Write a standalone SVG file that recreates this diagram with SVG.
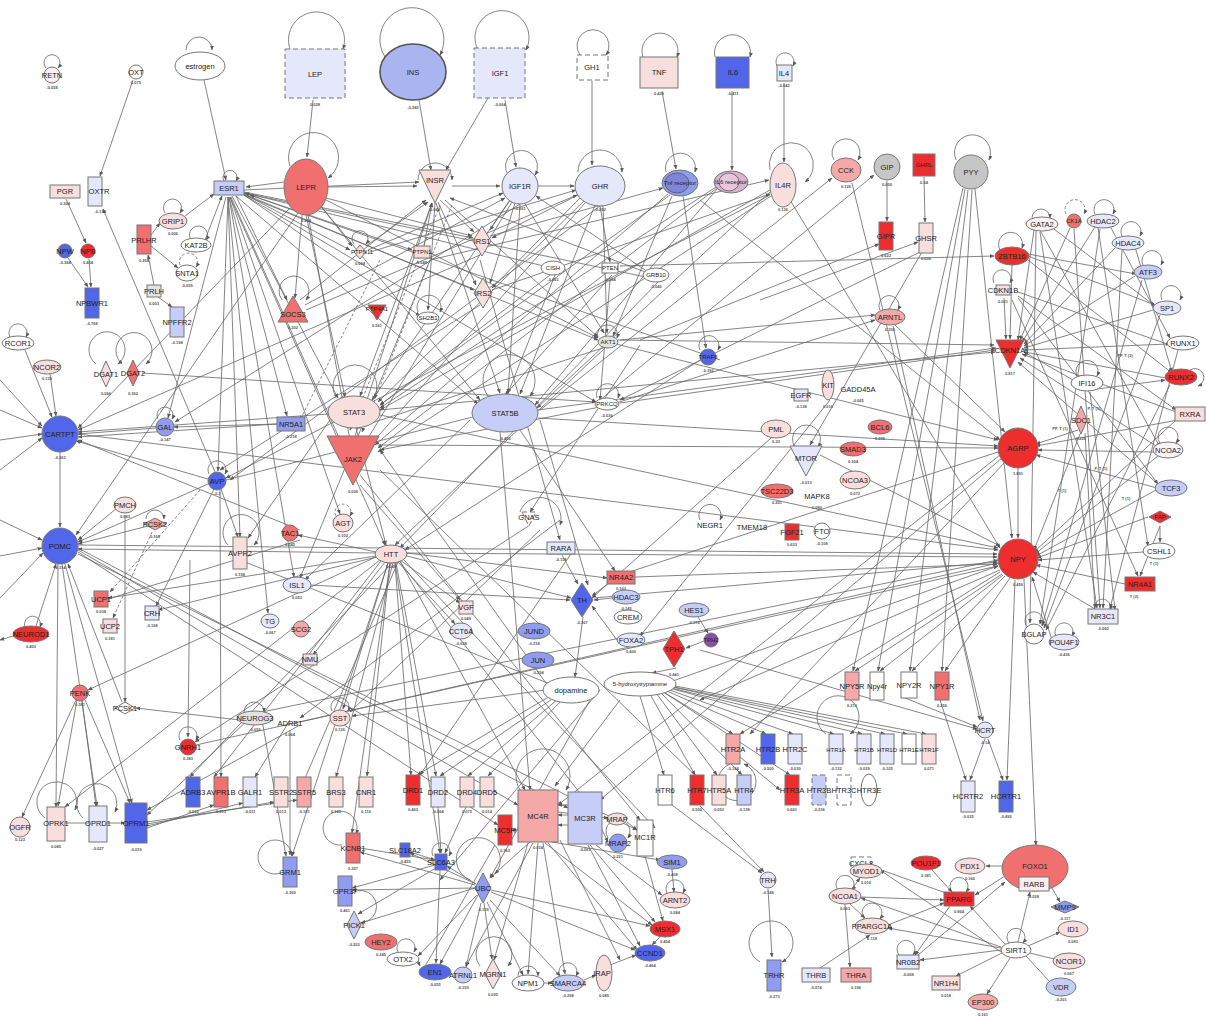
<svg xmlns="http://www.w3.org/2000/svg" width="1206" height="1020" viewBox="0 0 1206 1020">
<style>
.n{stroke:#777;stroke-width:1}
.d{stroke-dasharray:5 3}
.r1{fill:#ee2e2e}.r2{fill:#f07070}.r3{fill:#f4a8a8}.r4{fill:#f9dede}
.b1{fill:#5166e8}.b2{fill:#8f9cef}.b3{fill:#c6cdf6}.b4{fill:#e5e8fb}
.w{fill:#fff}.g{fill:#c6c6c6}.g2{fill:#e2e2e2}
text{font-family:"Liberation Sans",Arial,sans-serif;fill:#222;text-anchor:middle}
.t{font-size:7.5px}
.s{font-size:6px}
.v{font-size:4px;font-weight:bold;fill:#555}
#connectors path{fill:none}
</style>
<defs>
<marker id="a" viewBox="0 0 10 10" refX="9" refY="5" markerWidth="6" markerHeight="6" orient="auto"><path d="M0 1L10 5L0 9z" fill="#5a5a5a"/></marker>
</defs>
<rect width="1206" height="1020" fill="#fff"/>
<g id="connectors" stroke="#666" stroke-width="0.8" marker-end="url(#a)">
<path d="M46 68A8 8 0 1 1 58 68"/>
<path d="M186 50A13 13 0 1 1 212 50"/>
<path d="M290 49A28 28 0 1 1 343 49"/>
<path d="M385 57A32 32 0 1 1 440 55"/>
<path d="M478 50A27 27 0 1 1 526 50"/>
<path d="M580 55A16 16 0 1 1 606 55"/>
<path d="M643 57A18 18 0 1 1 677 57"/>
<path d="M715 57A18 18 0 1 1 750 57"/>
<path d="M777 66A9 9 0 1 1 793 66"/>
<path d="M224 181A7 7 0 1 1 236 181"/>
<path d="M418 180A17 17 0 1 1 452 180"/>
<path d="M508 175A16 16 0 1 1 535 175"/>
<path d="M578 172A21 21 0 1 1 622 172"/>
<path d="M666 172A15 15 0 1 1 695 172"/>
<path d="M770 170A22 22 0 1 1 805 182"/>
<path d="M290 166A25 25 0 1 1 328 178"/>
<path d="M834 160A14 14 0 1 1 858 160"/>
<path d="M956 160A18 18 0 1 1 989 160"/>
<path d="M165 213A9 9 0 1 1 180 213"/>
<path d="M190 238A9 9 0 1 1 206 240"/>
<path d="M180 265A9 9 0 1 1 196 267" stroke-dasharray="3 2"/>
<path d="M336 398A22 22 0 1 1 374 398"/>
<path d="M488 396A26 26 0 1 1 530 396"/>
<path d="M282 300A15 15 0 1 1 306 300"/>
<path d="M354 244A8 8 0 1 1 366 244"/>
<path d="M418 312A12 12 0 1 1 440 312"/>
<path d="M598 338A10 10 0 1 1 617 338"/>
<path d="M597 398A11 11 0 1 1 618 398"/>
<path d="M700 350A10 10 0 1 1 718 350"/>
<path d="M520 512A20 20 0 1 1 560 525"/>
<path d="M158 419A8 8 0 1 1 172 419"/>
<path d="M96 364A18 18 0 1 1 118 364"/>
<path d="M122 364A18 18 0 1 1 146 364"/>
<path d="M10 337A9 9 0 1 1 26 337"/>
<path d="M209 474A9 9 0 1 1 225 474"/>
<path d="M146 519A9 9 0 1 1 164 519"/>
<path d="M228 545A18 18 0 1 1 254 545"/>
<path d="M336 516A8 8 0 1 1 350 516" stroke-dasharray="3 2"/>
<path d="M25 627A8 8 0 1 1 40 627"/>
<path d="M700 520A11 11 0 1 1 720 520"/>
<path d="M795 447A14 14 0 1 1 818 447"/>
<path d="M880 310A10 10 0 1 1 898 310"/>
<path d="M1000 250A12 12 0 1 1 1022 248"/>
<path d="M994 283A9 9 0 1 1 1010 283"/>
<path d="M1032 218A9 9 0 1 1 1050 218"/>
<path d="M1066 214A10 10 0 1 1 1084 214" stroke-dasharray="3 2"/>
<path d="M1095 214A10 10 0 1 1 1113 214"/>
<path d="M1122 236A10 10 0 1 1 1140 236"/>
<path d="M1143 265A10 10 0 1 1 1161 265"/>
<path d="M1162 300A10 10 0 1 1 1180 300"/>
<path d="M1190 370A9 9 0 1 1 1198 386"/>
<path d="M1160 443A10 10 0 1 1 1176 443"/>
<path d="M1077 376A11 11 0 1 1 1097 376"/>
<path d="M1026 625A9 9 0 1 1 1042 625"/>
<path d="M1056 636A9 9 0 1 1 1072 636"/>
<path d="M1095 610A8 8 0 1 1 1110 610"/>
<path d="M180 740A9 9 0 1 1 196 740"/>
<path d="M45 818A20 20 0 1 1 75 810"/>
<path d="M83 818A20 20 0 1 1 115 812"/>
<path d="M332 711A9 9 0 1 1 348 711"/>
<path d="M244 712A10 10 0 1 1 264 712"/>
<path d="M283 872A17 17 0 1 1 292 856"/>
<path d="M342 845A17 17 0 1 1 356 834"/>
<path d="M433 856A9 9 0 1 1 449 856"/>
<path d="M352 893A16 16 0 1 1 352 920"/>
<path d="M470 880A22 22 0 1 1 495 874"/>
<path d="M398 952A9 9 0 1 1 414 952"/>
<path d="M480 966A18 18 0 1 1 508 966"/>
<path d="M518 976A10 10 0 1 1 538 976"/>
<path d="M560 976A9 9 0 1 1 576 976"/>
<path d="M667 893A9 9 0 1 1 683 893"/>
<path d="M520 790A27 27 0 1 1 566 790"/>
<path d="M608 838A12 12 0 1 1 628 838"/>
<path d="M730 764A19 19 0 1 0 744 764"/>
<path d="M826 734A21 21 0 1 1 850 734"/>
<path d="M760 962A22 22 0 1 1 782 962"/>
<path d="M864 919A10 10 0 1 1 880 919"/>
<path d="M899 955A9 9 0 1 1 913 955"/>
<path d="M952 892A9 9 0 1 1 966 892"/>
<path d="M1009 943A9 9 0 1 1 1023 943"/>
<path d="M838 890A9 9 0 1 1 852 890"/>
<path d="M133 80L100 176"/>
<path d="M204 80L226 180"/>
<path d="M313 100L307 157"/>
<path d="M419 100L431 170"/>
<path d="M488 98L446 170"/>
<path d="M505 100L516 167"/>
<path d="M592 81L592 165"/>
<path d="M662 91L676 169"/>
<path d="M732 91L732 170"/>
<path d="M784 83L784 162"/>
<path d="M887 181L887 221"/>
<path d="M924 177L925 222"/>
<path d="M328 187L417 186"/>
<path d="M452 186L500 186"/>
<path d="M538 186L574 186"/>
<path d="M284 182L246 187"/>
<path d="M66 199L86 243"/>
<path d="M68 258L88 287"/>
<path d="M89 259L91 287"/>
<path d="M215 472L103 209"/>
<path d="M185 216L214 194"/>
<path d="M205 240L222 196"/>
<path d="M151 235L160 223"/>
<path d="M151 246L178 268"/>
<path d="M154 285L148 255"/>
<path d="M158 297L172 307"/>
<path d="M232 196L338 398"/>
<path d="M231 197L340 440"/>
<path d="M236 196L478 404"/>
<path d="M236 196L287 300"/>
<path d="M230 197L385 545"/>
<path d="M228 197L218 471"/>
<path d="M230 197L340 514"/>
<path d="M229 197L294 577"/>
<path d="M229 197L287 416"/>
<path d="M228 197L268 613"/>
<path d="M244 192L473 238"/>
<path d="M244 194L474 290"/>
<path d="M244 194L350 250"/>
<path d="M244 195L598 340"/>
<path d="M244 195L596 402"/>
<path d="M244 190L419 182"/>
<path d="M228 197L240 537"/>
<path d="M226 197L168 418"/>
<path d="M244 195L420 316"/>
<path d="M244 193L412 250"/>
<path d="M306 215L345 397"/>
<path d="M308 215L350 440"/>
<path d="M320 205L480 400"/>
<path d="M302 215L295 298"/>
<path d="M320 205L352 246"/>
<path d="M326 198L472 236"/>
<path d="M326 200L598 338"/>
<path d="M298 213L76 535"/>
<path d="M290 208L78 428"/>
<path d="M440 200L474 232"/>
<path d="M438 202L476 285"/>
<path d="M424 246L432 203"/>
<path d="M366 246L428 202"/>
<path d="M436 203L500 393"/>
<path d="M432 203L360 396"/>
<path d="M445 200L598 337"/>
<path d="M300 300L426 200"/>
<path d="M355 436L432 203"/>
<path d="M435 203L428 310"/>
<path d="M648 273L450 198"/>
<path d="M510 200L490 230"/>
<path d="M515 203L490 283"/>
<path d="M510 200L372 400"/>
<path d="M525 204L604 333"/>
<path d="M368 250L503 193"/>
<path d="M648 272L536 196"/>
<path d="M520 204L508 393"/>
<path d="M512 202L365 443"/>
<path d="M305 305L505 198"/>
<path d="M595 205L520 394"/>
<path d="M585 200L378 402"/>
<path d="M585 203L372 443"/>
<path d="M578 195L492 238"/>
<path d="M580 198L492 288"/>
<path d="M306 310L577 195"/>
<path d="M370 252L576 190"/>
<path d="M603 206L607 333"/>
<path d="M600 206L610 262"/>
<path d="M670 195L380 405"/>
<path d="M683 196L706 348"/>
<path d="M668 194L375 445"/>
<path d="M490 236L663 188"/>
<path d="M672 196L613 336"/>
<path d="M716 187L380 408"/>
<path d="M718 188L535 405"/>
<path d="M717 188L378 448"/>
<path d="M770 192L537 408"/>
<path d="M770 190L380 410"/>
<path d="M492 290L770 194"/>
<path d="M771 196L378 452"/>
<path d="M430 260L769 180"/>
<path d="M540 410L832 178"/>
<path d="M600 400L874 175"/>
<path d="M640 340L879 244"/>
<path d="M852 183L983 721"/>
<path d="M760 300L918 242"/>
<path d="M920 252L620 400"/>
<path d="M922 252L810 445"/>
<path d="M620 266L994 256"/>
<path d="M968 190L910 671"/>
<path d="M972 190L942 671"/>
<path d="M965 189L878 671"/>
<path d="M963 188L853 671"/>
<path d="M975 189L1012 538"/>
<path d="M895 325L1005 432"/>
<path d="M893 326L980 720"/>
<path d="M610 405L875 320"/>
<path d="M620 340L875 315"/>
<path d="M618 340L994 345"/>
<path d="M620 403L995 350"/>
<path d="M538 410L996 348"/>
<path d="M380 410L995 352"/>
<path d="M142 373L596 402"/>
<!-- extra mesh in the middle -->
<path d="M612 345L356 428"/>
<path d="M600 407L380 450"/>
<path d="M770 195L226 478"/>
<path d="M600 206L230 480"/>
<path d="M520 204L175 422"/>
<path d="M480 255L78 430"/>
<path d="M480 305L220 470"/>
<path d="M430 260L300 578"/>
<path d="M660 280L400 548"/>
<path d="M700 360L405 550"/>
<path d="M605 348L395 545"/>
<path d="M540 420L588 585"/>
<path d="M520 430L615 571"/>
<path d="M470 420L305 580"/>
<path d="M330 420L248 538"/>
<path d="M360 485L460 600"/>
<path d="M560 520L300 718"/>
<path d="M540 530L350 712"/>
<path d="M530 525L195 742"/>
<path d="M575 548L420 775"/>
<path d="M500 432L530 790"/>
<path d="M640 345L530 512"/>
<path d="M780 430L592 598"/>
<path d="M830 400L640 636"/>
<path d="M550 275L380 405"/>
<path d="M555 275L508 393"/>
<path d="M612 275L505 395"/>
<path d="M660 280L230 190"/>
<path d="M720 360L250 195"/>
<path d="M560 270L245 193"/>
<path d="M700 200L1000 440"/>
<path d="M790 200L1000 548"/>
<path d="M380 470L700 780"/>
<path d="M360 475L640 820"/>
<path d="M480 260L560 540"/>
<path d="M610 280L600 400"/>
<!-- ring mesh -->
<path d="M1034 230L1018 340"/>
<path d="M1070 228L1020 340"/>
<path d="M1095 227L1022 342"/>
<path d="M1115 248L1024 344"/>
<path d="M1135 276L1024 346"/>
<path d="M1153 310L1024 348"/>
<path d="M1168 344L1024 350"/>
<path d="M1166 378L1024 352"/>
<path d="M1176 412L1022 354"/>
<path d="M1156 446L1020 358"/>
<path d="M1158 484L1018 362"/>
<path d="M1073 380L1024 352"/>
<path d="M1012 265L1010 339"/>
<path d="M1004 298L1006 339"/>
<path d="M1156 490L1036 556"/>
<path d="M1148 517L1037 558"/>
<path d="M1143 552L1038 560"/>
<path d="M1125 584L1036 565"/>
<path d="M1095 609L1033 572"/>
<path d="M1052 640L1032 577"/>
<path d="M1080 434L1034 550"/>
<path d="M1158 456L1035 554"/>
<path d="M1176 420L1034 552"/>
<path d="M1078 430L1036 444"/>
<path d="M1154 452L1038 450"/>
<path d="M1157 488L1036 455"/>
<path d="M1178 420L1036 446"/>
<path d="M1028 260L1172 373"/>
<path d="M1040 232L1097 608"/>
<path d="M1100 229L1040 624"/>
<path d="M1122 250L1103 608"/>
<path d="M1142 280L1042 626"/>
<path d="M1160 315L1044 628"/>
<path d="M1170 385L1046 630"/>
<path d="M1178 350L1110 608"/>
<path d="M1074 229L1100 608"/>
<path d="M1036 231L1030 623"/>
<path d="M1018 296L1176 410"/>
<path d="M1018 298L1158 484"/>
<path d="M1028 256L1155 305"/>
<path d="M1028 254L1136 274"/>
<path d="M1050 226L1155 306"/>
<path d="M1110 226L1170 338"/>
<path d="M1135 247L1172 372"/>
<path d="M1018 292L1170 345"/>
<path d="M1090 390L1165 380"/>
<path d="M1040 230L1160 447"/>
<path d="M1098 228L1148 546"/>
<path d="M1012 300L1138 576"/>
<path d="M1090 392L1115 610"/>
<path d="M1160 526L1140 576"/>
<path d="M1160 526L1160 542"/>
<path d="M1085 433L1095 608"/>
<path d="M405 553L997 557"/>
<path d="M594 598L997 562"/>
<path d="M78 545L997 554"/>
<path d="M78 434L998 550"/>
<path d="M1018 468L1018 538"/>
<path d="M635 577L997 564"/>
<path d="M380 415L998 548"/>
<path d="M670 682L998 566"/>
<path d="M820 455L1000 546"/>
<path d="M1010 578L945 671"/>
<path d="M1005 576L912 671"/>
<path d="M1002 574L855 671"/>
<path d="M1003 575L880 671"/>
<path d="M1024 579L1036 845"/>
<path d="M1015 580L1007 780"/>
<path d="M940 700L966 780"/>
<path d="M985 739L970 780"/>
<path d="M988 739L1003 780"/>
<path d="M905 698L977 727"/>
<path d="M300 722L998 563"/>
<path d="M262 712L998 560"/>
<path d="M196 745L998 566"/>
<path d="M1000 570L700 700"/>
<path d="M1000 572L740 734"/>
<path d="M700 650L977 729"/>
<path d="M378 445L998 448"/>
<path d="M538 418L998 446"/>
<path d="M600 340L998 440"/>
<path d="M1000 455L558 805"/>
<path d="M1002 458L600 800"/>
<path d="M1005 462L750 734"/>
<path d="M998 452L620 575"/>
<path d="M660 690L733 734"/>
<path d="M662 689L766 734"/>
<path d="M664 688L793 734"/>
<path d="M666 687L834 734"/>
<path d="M667 687L862 734"/>
<path d="M668 686L885 734"/>
<path d="M669 686L907 734"/>
<path d="M670 685L926 734"/>
<path d="M660 692L742 775"/>
<path d="M662 691L790 775"/>
<path d="M656 693L717 775"/>
<path d="M650 694L695 775"/>
<path d="M640 696L664 775"/>
<path d="M672 805L762 873"/>
<path d="M700 806L764 872"/>
<path d="M768 889L772 957"/>
<path d="M820 968L870 935"/>
<path d="M845 904L850 967"/>
<path d="M740 757L780 790"/>
<path d="M676 668L652 673"/>
<path d="M704 641L686 648"/>
<path d="M698 617L708 633"/>
<path d="M583 617L575 677"/>
<path d="M610 582L592 596"/>
<path d="M562 555L578 584"/>
<path d="M617 640L592 606"/>
<path d="M612 598L594 600"/>
<path d="M552 695L417 775"/>
<path d="M555 697L440 776"/>
<path d="M558 699L468 776"/>
<path d="M562 700L488 776"/>
<path d="M546 690L352 716"/>
<path d="M548 686L380 450"/>
<path d="M550 684L240 560"/>
<path d="M395 563L411 775"/>
<path d="M396 563L436 776"/>
<path d="M390 563L367 776"/>
<path d="M388 563L343 709"/>
<path d="M378 556L88 690"/>
<path d="M375 553L78 549"/>
<path d="M407 556L571 598"/>
<path d="M388 563L292 856"/>
<path d="M400 561L525 790"/>
<path d="M400 560L460 603"/>
<path d="M398 562L455 624"/>
<path d="M376 556L108 598"/>
<path d="M377 557L158 610"/>
<path d="M376 552L298 535"/>
<path d="M385 562L313 655"/>
<path d="M356 428L386 545"/>
<path d="M407 553L607 578"/>
<path d="M395 563L440 853"/>
<path d="M390 563L352 833"/>
<path d="M398 562L300 790"/>
<path d="M393 563L336 777"/>
<path d="M381 561L214 777"/>
<path d="M392 563L190 777"/>
<path d="M400 562L590 806"/>
<path d="M404 560L655 828"/>
<path d="M311 585L570 600"/>
<path d="M65 564L132 803"/>
<path d="M58 564L56 807"/>
<path d="M62 564L97 806"/>
<path d="M78 550L518 805"/>
<path d="M78 548L568 808"/>
<path d="M78 552L498 825"/>
<path d="M78 554L637 830"/>
<path d="M122 702L68 564"/>
<path d="M148 526L78 544"/>
<path d="M117 508L78 540"/>
<path d="M60 452L60 527"/>
<path d="M208 484L78 542"/>
<path d="M36 626L56 564"/>
<path d="M0 520L42 540"/>
<path d="M0 556L42 548"/>
<path d="M0 598L43 553"/>
<path d="M0 410L42 428"/>
<path d="M0 440L42 434"/>
<path d="M0 470L42 438"/>
<path d="M0 380L42 426"/>
<path d="M25 350L52 417"/>
<path d="M50 374L56 416"/>
<path d="M156 428L78 434"/>
<path d="M277 424L78 437"/>
<path d="M208 479L76 441"/>
<path d="M328 414L78 432"/>
<path d="M277 424L174 427"/>
<path d="M13 636L0 640"/>
<path d="M300 530L78 440"/>
<path d="M77 700L58 806"/>
<path d="M82 701L96 806"/>
<path d="M85 700L130 803"/>
<path d="M76 700L22 817"/>
<path d="M65 823L89 823" marker-end="none"/>
<path d="M107 823L125 823"/>
<path d="M300 725L147 810"/>
<path d="M250 718L147 815"/>
<path d="M147 822L297 800"/>
<path d="M147 824L274 802"/>
<path d="M147 826L243 803"/>
<path d="M147 828L214 805"/>
<path d="M190 560L188 737"/>
<path d="M240 720L136 708"/>
<path d="M380 560L65 807"/>
<path d="M221 489L238 537"/>
<path d="M220 490L221 777"/>
<path d="M214 489L156 606"/>
<path d="M226 480L500 410"/>
<path d="M152 532L113 618" stroke-dasharray="3 2"/>
<path d="M200 490L110 592" stroke-dasharray="3 2"/>
<path d="M440 205L350 430" stroke-dasharray="3 2"/>
<path d="M452 205L362 432" stroke-dasharray="3 2"/>
<path d="M380 260L300 420" stroke-dasharray="3 2"/>
<path d="M125 515L125 702"/>
<path d="M300 540L105 600"/>
<path d="M290 720L255 777"/>
<path d="M290 730L290 855"/>
<path d="M262 720L286 856"/>
<path d="M552 842L660 860"/>
<path d="M530 842L490 878"/>
<path d="M528 843L494 960"/>
<path d="M545 843L652 925"/>
<path d="M548 843L637 950"/>
<path d="M543 843L565 974"/>
<path d="M538 843L528 974"/>
<path d="M533 843L466 966"/>
<path d="M558 812L608 818"/>
<path d="M602 830L608 842"/>
<path d="M590 845L655 922"/>
<path d="M588 845L640 946"/>
<path d="M596 845L662 895"/>
<path d="M518 830L512 830"/>
<path d="M568 805L558 805"/>
<path d="M568 815L558 815"/>
<path d="M568 825L558 825"/>
<path d="M476 884L447 866"/>
<path d="M475 888L361 923"/>
<path d="M475 888L352 890"/>
<path d="M478 895L440 964"/>
<path d="M484 903L492 959"/>
<path d="M487 902L523 975"/>
<path d="M490 900L560 976"/>
<path d="M491 892L635 950"/>
<path d="M491 890L650 926"/>
<path d="M475 885L360 852"/>
<path d="M476 884L410 853"/>
<path d="M481 903L466 967"/>
<path d="M477 895L418 956"/>
<path d="M410 852L435 860"/>
<path d="M438 807L441 853"/>
<path d="M436 868L358 914"/>
<path d="M440 870L436 963"/>
<path d="M360 848L435 860"/>
<path d="M435 865L352 888"/>
<path d="M466 807L445 853"/>
<path d="M418 961L420 966"/>
<path d="M544 983L552 983"/>
<path d="M584 980L596 975"/>
<path d="M610 965L636 955"/>
<path d="M672 869L674 892"/>
<path d="M660 937L652 945"/>
<path d="M645 856L663 921"/>
<path d="M627 822L637 830"/>
<path d="M495 845L420 975"/>
<path d="M560 840L620 960"/>
<path d="M600 690L440 880"/>
<path d="M590 700L490 878"/>
<path d="M620 700L555 786"/>
<path d="M1002 866L986 866"/>
<path d="M1005 876L975 895"/>
<path d="M1052 888L1060 902"/>
<path d="M1018 942L1030 892"/>
<path d="M1028 946L1060 932"/>
<path d="M1030 953L1054 959" marker-end="none"/>
<path d="M1026 956L1050 982" marker-end="none"/>
<path d="M1010 958L987 994"/>
<path d="M1002 953L956 976"/>
<path d="M1001 950L920 960"/>
<path d="M1005 944L970 906"/>
<path d="M1001 948L888 928"/>
<path d="M1001 947L861 898"/>
<path d="M918 955L1005 882"/>
<path d="M888 925L944 903"/>
<path d="M861 897L944 900"/>
<path d="M932 870L952 892"/>
<path d="M946 893L870 866"/>
<path d="M852 889L860 878"/>
<path d="M950 906L915 955"/>
<path d="M850 904L865 918"/>
<path d="M1001 952L880 870"/>
</g>
<g id="edge-labels">
<text class="v" x="1062" y="492">T (1)</text>
<text class="v" x="1094" y="410">P, T (1)</text>
<text class="v" x="1060" y="430">PP, T (1)</text>
<text class="v" x="1101" y="470">P, T (1)</text>
<text class="v" x="1126" y="500">T (1)</text>
<text class="v" x="1154" y="565">T (1)</text>
<text class="v" x="1125" y="357">PP, T (2)</text>
<text class="v" x="1134" y="598">T (2)</text>
</g>
<g id="RETN"><circle class="n" cx="52" cy="75" r="8" fill="#faeeee"/><text class="t" x="52" y="78">RETN</text><text class="v" x="52" y="89">-0.058</text></g>
<g id="OXT"><circle class="n w" cx="136" cy="72" r="7"/><text class="t" x="136" y="75">OXT</text><text class="v" x="136" y="84">0.075</text></g>
<g id="estrogen"><ellipse class="n w" cx="200" cy="66" rx="25" ry="14"/><text class="t" x="200" y="69">estrogen</text></g>
<g id="LEP"><rect class="n d b4" x="285" y="49" width="60" height="49"/><text class="t" x="315" y="77">LEP</text><text class="v" x="315" y="106">0.028</text></g>
<g id="INS"><ellipse cx="413" cy="72" rx="33" ry="28" fill="#aab4ee" stroke="#555" stroke-width="1.6"/><text class="t" x="413" y="75">INS</text><text class="v" x="413" y="109">-0.285</text></g>
<g id="IGF1"><rect class="n d b4" x="474" y="48" width="51" height="50"/><text class="t" x="500" y="76">IGF1</text><text class="v" x="500" y="106">-0.064</text></g>
<g id="GH1"><rect class="n d w" x="577" y="55" width="31" height="25"/><text class="t" x="592" y="70">GH1</text></g>
<g id="TNF"><rect class="n r4" x="640" y="57" width="38" height="31"/><text class="t" x="659" y="75">TNF</text><text class="v" x="659" y="95">0.429</text></g>
<g id="IL6"><rect class="n b1" x="716" y="57" width="33" height="31"/><text class="t" x="733" y="75">IL6</text><text class="v" x="733" y="95">-0.411</text></g>
<g id="IL4"><rect class="n b4" x="777" y="65" width="15" height="16"/><text class="t" x="784" y="76">IL4</text><text class="v" x="784" y="87">-0.042</text></g>
<g id="PGR"><rect class="n r4" x="50" y="185" width="30" height="13"/><text class="t" x="65" y="194">PGR</text><text class="v" x="65" y="205">0.304</text></g>
<g id="OXTR"><rect class="n b4" x="88" y="177" width="14" height="29"/><text class="t" x="99" y="194">OXTR</text><text class="v" x="100" y="213">-0.139</text></g>
<g id="ESR1"><rect class="n b3" x="214" y="181" width="30" height="14"/><text class="t" x="229" y="191">ESR1</text></g>
<g id="LEPR"><ellipse class="n r2" cx="306" cy="187" rx="22" ry="28"/><text class="t" x="306" y="190">LEPR</text><text class="v" x="306" y="222">0.264</text></g>
<g id="INSR"><polygon class="n r4" points="419,170 451,170 435,203"/><text class="t" x="435" y="183">INSR</text><text class="v" x="435" y="211">0.044</text></g>
<g id="IGF1R"><circle class="n b4" cx="520" cy="186" r="18"/><text class="t" x="520" y="189">IGF1R</text><text class="v" x="520" y="210">-0.061</text></g>
<g id="GHR"><ellipse class="n b4" cx="600" cy="186" rx="25" ry="20"/><text class="t" x="600" y="189">GHR</text><text class="v" x="600" y="211">-0.092</text></g>
<g id="Tnf_receptor"><ellipse class="n b2" cx="680" cy="183" rx="18" ry="13"/><ellipse cx="677" cy="183" rx="12" ry="10" fill="#7f86d8" stroke="#555" stroke-width="0.8"/><text class="s" x="680" y="185">Tnf receptor</text></g>
<g id="IL6_receptor"><ellipse class="n" cx="731" cy="182" rx="17" ry="11" fill="#d9b4d0"/><ellipse cx="729" cy="182" rx="10" ry="9" fill="#e8c8d8" stroke="#555" stroke-width="0.8"/><text class="s" x="731" y="184">IL6 receptor</text></g>
<g id="IL4R"><ellipse class="n r4" cx="783" cy="185" rx="13" ry="22"/><text class="t" x="783" y="188">IL4R</text><text class="v" x="783" y="211">0.136</text></g>
<g id="CCK"><ellipse class="n r3" cx="846" cy="170" rx="15" ry="12"/><text class="t" x="846" y="173">CCK</text><text class="v" x="846" y="188">0.126</text></g>
<g id="GIP"><circle class="n g" cx="887" cy="167" r="13"/><text class="t" x="887" y="170">GIP</text><text class="v" x="887" y="186">0.000</text></g>
<g id="GHRL"><rect class="n r1" x="913" y="154" width="22" height="22"/><text class="s" x="924" y="167">GHRL</text><text class="v" x="924" y="184">0.64</text></g>
<g id="PYY"><circle class="n g" cx="971" cy="172" r="17"/><text class="t" x="971" y="175">PYY</text></g>
<g id="GIPR"><rect class="n r1" x="879" y="222" width="14" height="28"/><text class="t" x="886" y="239">GIPR</text><text class="v" x="886" y="257">0.622</text></g>
<g id="GHSR"><rect class="n r4" x="919" y="223" width="14" height="30"/><text class="t" x="926" y="241">GHSR</text><text class="v" x="926" y="260">0.036</text></g>
<g id="GRIP1"><ellipse class="n r4" cx="173" cy="221" rx="14" ry="8"/><text class="t" x="173" y="224">GRIP1</text><text class="v" x="173" y="235">0.006</text></g>
<g id="KAT2B"><ellipse class="n w" cx="196" cy="245" rx="15" ry="7"/><text class="t" x="196" y="248">KAT2B</text></g>
<g id="SNTA1"><ellipse class="n w" cx="187" cy="273" rx="11" ry="8"/><text class="t" x="187" y="276">SNTA1</text><text class="v" x="187" y="287">-0.059</text></g>
<g id="PRLHR"><rect class="n r2" x="137" y="225" width="14" height="29"/><text class="t" x="144" y="243">PRLHR</text><text class="v" x="144" y="262">0.268</text></g>
<g id="PRLH"><rect class="n g2" x="147" y="285" width="14" height="12"/><text class="t" x="154" y="294">PRLH</text><text class="v" x="154" y="305">0.003</text></g>
<g id="NPFFR2"><rect class="n b3" x="170" y="307" width="14" height="30"/><text class="t" x="177" y="325">NPFFR2</text><text class="v" x="177" y="344">-0.198</text></g>
<g id="NPW"><circle class="n b1" cx="65" cy="251" r="7"/><text class="t" x="65" y="254">NPW</text><text class="v" x="65" y="264">-0.384</text></g>
<g id="NPB"><circle class="n r1" cx="88" cy="251" r="7"/><text class="t" x="88" y="254">NPB</text><text class="v" x="88" y="264">0.434</text></g>
<g id="NPBWR1"><rect class="n b1" x="85" y="288" width="14" height="30"/><text class="t" x="92" y="306">NPBWR1</text><text class="v" x="92" y="325">-0.768</text></g>
<g id="PTPN11"><polygon class="n r4" points="360,245 366,252 360,259 354,252"/><text class="s" x="362" y="254">PTPN11</text><text class="v" x="360" y="265">0.094</text></g>
<g id="PTPN1"><rect class="n r4" x="414" y="246" width="16" height="12"/><text class="s" x="422" y="254">PTPN1</text><text class="v" x="422" y="264">0.048</text></g>
<g id="IRS1"><polygon class="n r4" points="482,226 491,241 482,256 473,241"/><text class="t" x="482" y="244">IRS1</text></g>
<g id="IRS2"><polygon class="n r4" points="483,278 492,293 483,308 474,293"/><text class="t" x="483" y="296">IRS2</text></g>
<g id="CISH"><ellipse class="n w" cx="553" cy="268" rx="12" ry="7"/><text class="s" x="553" y="270">CISH</text><text class="v" x="553" y="281">-0.061</text></g>
<g id="PTEN"><rect class="n w" x="602" y="263" width="16" height="10"/><text class="s" x="610" y="270">PTEN</text><text class="v" x="610" y="281">-0.084</text></g>
<g id="GRB10"><ellipse class="n w" cx="656" cy="275" rx="13" ry="7"/><text class="s" x="656" y="277">GRB10</text><text class="v" x="656" y="288">-0.040</text></g>
<g id="SOCS3"><polygon class="n r2" points="278,322 308,322 293,296"/><text class="t" x="293" y="317">SOCS3</text><text class="v" x="293" y="329">0.302</text></g>
<g id="PTP4A1"><polygon class="n r1" points="368,305 386,305 377,320"/><text class="s" x="377" y="311">PTP4A1</text><text class="v" x="377" y="327">0.561</text></g>
<g id="SH2B1"><ellipse class="n w" cx="428" cy="318" rx="11" ry="6"/><text class="s" x="428" y="320">SH2B1</text></g>
<g id="AKT1"><ellipse class="n g2" cx="608" cy="342" rx="10" ry="6"/><text class="s" x="608" y="344">AKT1</text></g>
<g id="PRKCQ"><ellipse class="n w" cx="607" cy="404" rx="12" ry="6"/><text class="s" x="607" y="406">PRKCQ</text><text class="v" x="607" y="417">-0.036</text></g>
<g id="TRAF6"><circle class="n b1" cx="708" cy="357" r="8"/><text class="s" x="708" y="359">TRAF6</text><text class="v" x="708" y="372">-0.392</text></g>
<g id="STAT3"><ellipse class="n r4" cx="354" cy="412" rx="26" ry="16"/><text class="t" x="354" y="415">STAT3</text></g>
<g id="STAT5B"><ellipse class="n b3" cx="505" cy="413" rx="33" ry="19"/><text class="t" x="505" y="416">STAT5B</text><text class="v" x="505" y="440">-0.453</text></g>
<g id="JAK2"><polygon class="n r2" points="327,436 379,436 353,485"/><text class="t" x="353" y="462">JAK2</text><text class="v" x="353" y="493">0.036</text></g>
<g id="NR5A1"><rect class="n b2" x="277" y="417" width="28" height="14"/><text class="t" x="291" y="427">NR5A1</text><text class="v" x="291" y="438">-0.218</text></g>
<g id="GAL"><circle class="n b2" cx="165" cy="427" r="9"/><text class="t" x="165" y="430">GAL</text><text class="v" x="165" y="441">-0.147</text></g>
<g id="CARTPT"><circle class="n b1" cx="60" cy="434" r="18"/><text class="t" x="60" y="437">CARTPT</text><text class="v" x="60" y="459">-0.363</text></g>
<g id="POMC"><circle class="n b1" cx="60" cy="546" r="18"/><text class="t" x="60" y="549">POMC</text><text class="v" x="60" y="569">-0.314</text></g>
<g id="NCOR2"><ellipse class="n r4" cx="47" cy="367" rx="14" ry="7"/><text class="t" x="47" y="370">NCOR2</text><text class="v" x="47" y="380">0.139</text></g>
<g id="RCOR1"><ellipse class="n w" cx="18" cy="343" rx="16" ry="7"/><text class="t" x="18" y="346">RCOR1</text></g>
<g id="DGAT1"><polygon class="n r4" points="106,361 112,374 106,387 100,374"/><text class="t" x="106" y="377">DGAT1</text><text class="v" x="106" y="395">0.066</text></g>
<g id="DGAT2"><polygon class="n r2" points="133,360 139,373 133,386 127,373"/><text class="t" x="133" y="376">DGAT2</text><text class="v" x="133" y="395">0.362</text></g>
<g id="AVP"><circle class="n b1" cx="217" cy="481" r="9"/><text class="t" x="217" y="484">AVP</text><text class="v" x="217" y="495">-0.3</text></g>
<g id="PMCH"><ellipse class="n r4" cx="125" cy="505" rx="11" ry="8"/><text class="t" x="125" y="508">PMCH</text><text class="v" x="125" y="518">0.083</text></g>
<g id="PCSK2"><polygon class="n r3" points="144,524 155,518 166,524 155,530"/><text class="t" x="155" y="527">PCSK2</text><text class="v" x="155" y="538">0.169</text></g>
<g id="AVPR2"><rect class="n r4" x="233" y="537" width="14" height="32"/><text class="t" x="240" y="556">AVPR2</text><text class="v" x="240" y="576">0.158</text></g>
<g id="TAC1"><circle class="n r2" cx="290" cy="533" r="8"/><text class="t" x="290" y="536">TAC1</text><text class="v" x="290" y="546">0.345</text></g>
<g id="AGT"><ellipse class="n r4" cx="343" cy="523" rx="10" ry="9"/><text class="t" x="343" y="526">AGT</text><text class="v" x="343" y="537">0.102</text></g>
<g id="HTT"><ellipse class="n r4" cx="391" cy="554" rx="16" ry="9"/><text class="t" x="391" y="557">HTT</text><text class="v" x="391" y="568">0.048</text></g>
<g id="GNAS"><polygon class="n w d" points="522,512 536,512 529,526" stroke-width="0.6"/><text class="t" x="529" y="520">GNAS</text></g>
<g id="RARA"><rect class="n b4" x="547" y="542" width="28" height="12"/><text class="t" x="561" y="551">RARA</text><text class="v" x="561" y="561">-0.118</text></g>
<g id="ISL1"><ellipse class="n b4" cx="297" cy="585" rx="14" ry="8"/><text class="t" x="297" y="588">ISL1</text><text class="v" x="297" y="599">0.053</text></g>
<g id="UCP1"><rect class="n r2" x="94" y="591" width="14" height="16"/><text class="t" x="101" y="602">UCP1</text><text class="v" x="101" y="613">0.038</text></g>
<g id="UCP2"><rect class="n r4" x="103" y="619" width="14" height="14"/><text class="t" x="110" y="629">UCP2</text><text class="v" x="110" y="640">0.181</text></g>
<g id="CRH"><rect class="n b4" x="145" y="606" width="14" height="14"/><text class="t" x="152" y="616">CRH</text><text class="v" x="152" y="627">-0.168</text></g>
<g id="TG"><ellipse class="n b4" cx="270" cy="621" rx="9" ry="7"/><text class="t" x="270" y="624">TG</text><text class="v" x="270" y="634">-0.067</text></g>
<g id="SCG2"><circle class="n r3" cx="301" cy="629" r="8"/><text class="t" x="301" y="632">SCG2</text></g>
<g id="NMU"><rect class="n r4" x="303" y="654" width="14" height="11"/><text class="t" x="310" y="662">NMU</text></g>
<g id="NEUROD1"><ellipse class="n r1" cx="31" cy="634" rx="18" ry="8"/><text class="t" x="31" y="637">NEUROD1</text><text class="v" x="31" y="648">0.403</text></g>
<g id="VGF"><rect class="n r4" x="459" y="601" width="14" height="13"/><text class="t" x="466" y="610">VGF</text><text class="v" x="466" y="620">0.049</text></g>
<g id="CCT6A"><ellipse class="n b4" cx="461" cy="631" rx="11" ry="8"/><text class="t" x="461" y="634">CCT6A</text><text class="v" x="461" y="645">-0.038</text></g>
<g id="JUND"><ellipse class="n b2" cx="534" cy="631" rx="16" ry="8"/><text class="t" x="534" y="634">JUND</text><text class="v" x="534" y="645">-0.218</text></g>
<g id="JUN"><ellipse class="n b2" cx="538" cy="660" rx="16" ry="8"/><text class="t" x="538" y="663">JUN</text><text class="v" x="538" y="674">-0.294</text></g>
<g id="TH"><polygon class="n b1" points="582,583 593,600 582,617 571,600"/><text class="t" x="582" y="603">TH</text><text class="v" x="582" y="624">-0.307</text></g>
<g id="NR4A2"><rect class="n r2" x="607" y="571" width="28" height="13"/><text class="t" x="621" y="580">NR4A2</text><text class="v" x="621" y="590">0.163</text></g>
<g id="HDAC3"><ellipse class="n b3" cx="626" cy="597" rx="14" ry="7"/><text class="t" x="626" y="600">HDAC3</text><text class="v" x="626" y="610">-0.145</text></g>
<g id="CREM"><ellipse class="n w" cx="628" cy="617" rx="14" ry="7"/><text class="t" x="628" y="620">CREM</text></g>
<g id="FOXA2"><ellipse class="n b4" cx="631" cy="640" rx="14" ry="7"/><text class="t" x="631" y="643">FOXA2</text><text class="v" x="631" y="653">0.430</text></g>
<g id="HES1"><ellipse class="n b3" cx="694" cy="610" rx="15" ry="7"/><text class="t" x="694" y="613">HES1</text><text class="v" x="694" y="624">-0.176</text></g>
<g id="TPH1"><polygon class="n r1" points="674,631 685,649 674,667 663,649"/><text class="t" x="674" y="652">TPH1</text><text class="v" x="674" y="676">0.441</text></g>
<g id="TPH2"><circle class="n" cx="711" cy="640" r="7" fill="#8a4f9e"/><text class="s" x="711" y="642">TPH2</text></g>
<g id="NEGR1"><text class="t" x="710" y="528">NEGR1</text></g>
<g id="TMEM18"><text class="t" x="752" y="530">TMEM18</text></g>
<g id="FGF21"><rect class="n r1" x="785" y="524" width="14" height="16"/><text class="t" x="792" y="535">FGF21</text><text class="v" x="792" y="546">0.633</text></g>
<g id="FTO"><circle class="n w" cx="822" cy="531" r="8"/><text class="t" x="822" y="534">FTO</text><text class="v" x="822" y="545">-0.108</text></g>
<g id="EGFR"><rect class="n b4" x="794" y="389" width="14" height="12"/><text class="t" x="801" y="398">EGFR</text><text class="v" x="801" y="408">-0.138</text></g>
<g id="KIT"><ellipse class="n r4" cx="828" cy="385" rx="6" ry="15"/><text class="t" x="828" y="388">KIT</text><text class="v" x="828" y="408">0.016</text></g>
<g id="GADD45A"><text class="t" x="858" y="392">GADD45A</text><text class="v" x="858" y="402">-0.065</text></g>
<g id="PML"><ellipse class="n r4" cx="776" cy="429" rx="15" ry="9"/><text class="t" x="776" y="432">PML</text><text class="v" x="776" y="443">0.22</text></g>
<g id="BCL6"><ellipse class="n r2" cx="880" cy="427" rx="12" ry="7"/><text class="t" x="880" y="430">BCL6</text><text class="v" x="880" y="440">0.236</text></g>
<g id="MTOR"><polygon class="n b4" points="790,446 822,446 806,476"/><text class="t" x="806" y="461">MTOR</text><text class="v" x="806" y="484">-0.013</text></g>
<g id="SMAD3"><ellipse class="n r2" cx="853" cy="449" rx="13" ry="7"/><text class="t" x="853" y="452">SMAD3</text><text class="v" x="853" y="463">0.304</text></g>
<g id="NCOA3"><ellipse class="n r4" cx="855" cy="480" rx="15" ry="9"/><text class="t" x="855" y="483">NCOA3</text><text class="v" x="855" y="495">0.072</text></g>
<g id="TSC22D3"><ellipse class="n r2" cx="777" cy="491" rx="16" ry="7"/><text class="t" x="777" y="494">TSC22D3</text><text class="v" x="777" y="504">0.201</text></g>
<g id="MAPK8"><text class="t" x="817" y="499">MAPK8</text><text class="v" x="817" y="509">0.080</text></g>
<g id="ARNTL"><ellipse class="n r3" cx="890" cy="317" rx="15" ry="8"/><text class="t" x="890" y="320">ARNTL</text><text class="v" x="890" y="331">0.350</text></g>
<g id="GATA2"><ellipse class="n" cx="1042" cy="224" rx="16" ry="7" fill="#fbf2f2"/><text class="t" x="1042" y="227">GATA2</text></g>
<g id="CK1A"><circle class="n r2" cx="1074" cy="221" r="7"/><text class="s" x="1074" y="223">CK1A</text></g>
<g id="HDAC2"><ellipse class="n b4" cx="1103" cy="221" rx="16" ry="7"/><text class="t" x="1103" y="224">HDAC2</text></g>
<g id="HDAC4"><ellipse class="n b4" cx="1128" cy="243" rx="16" ry="7"/><text class="t" x="1128" y="246">HDAC4</text></g>
<g id="ATF3"><ellipse class="n b3" cx="1148" cy="272" rx="14" ry="7"/><text class="t" x="1148" y="275">ATF3</text></g>
<g id="SP1"><ellipse class="n b4" cx="1167" cy="308" rx="14" ry="7"/><text class="t" x="1167" y="311">SP1</text></g>
<g id="RUNX1"><ellipse class="n w" cx="1183" cy="343" rx="16" ry="7"/><text class="t" x="1183" y="346">RUNX1</text></g>
<g id="RUNX2"><ellipse class="n r1" cx="1181" cy="377" rx="16" ry="8"/><text class="t" x="1181" y="380">RUNX2</text></g>
<g id="RXRA"><rect class="n r4" x="1175" y="407" width="30" height="14" stroke="#555"/><text class="t" x="1190" y="417">RXRA</text></g>
<g id="NCOA2"><ellipse class="n" cx="1168" cy="450" rx="15" ry="8" fill="#fbf2f2"/><text class="t" x="1168" y="453">NCOA2</text></g>
<g id="TCF3"><ellipse class="n b3" cx="1171" cy="488" rx="16" ry="8"/><text class="t" x="1171" y="491">TCF3</text></g>
<g id="FAP"><polygon class="n r1" points="1149,517 1160,511 1171,517 1160,523"/><text class="s" x="1160" y="519">FAP</text></g>
<g id="CSHL1"><ellipse class="n w" cx="1159" cy="551" rx="16" ry="8"/><text class="t" x="1159" y="554">CSHL1</text></g>
<g id="NR4A1"><rect class="n r1" x="1125" y="577" width="30" height="14"/><text class="t" x="1140" y="587">NR4A1</text></g>
<g id="NR3C1"><rect class="n b4" x="1088" y="609" width="30" height="15"/><text class="t" x="1103" y="619">NR3C1</text><text class="v" x="1103" y="630">-0.060</text></g>
<g id="POU4F1"><ellipse class="n b4" cx="1064" cy="642" rx="15" ry="8"/><text class="t" x="1064" y="645">POU4F1</text><text class="v" x="1064" y="656">-0.436</text></g>
<g id="BGLAP"><circle class="n w" cx="1034" cy="634" r="10"/><text class="t" x="1034" y="637">BGLAP</text></g>
<g id="ZBTB16"><ellipse class="n r1" cx="1012" cy="256" rx="17" ry="9"/><text class="t" x="1012" y="259">ZBTB16</text></g>
<g id="CDKN1B"><rect class="n r4" x="996" y="285" width="14" height="10"/><text class="t" x="1003" y="293">CDKN1B</text><text class="v" x="1003" y="303">0.021</text></g>
<g id="CDKN1A"><polygon class="n r1" points="996,340 1024,340 1010,368"/><text class="t" x="1010" y="353">CDKN1A</text><text class="v" x="1010" y="375">0.817</text></g>
<g id="IFI16"><ellipse class="n w" cx="1087" cy="383" rx="16" ry="8"/><text class="t" x="1087" y="386">IFI16</text></g>
<g id="SDC1"><polygon class="n r3" points="1081,406 1087,420 1081,434 1075,420"/><text class="t" x="1081" y="423">SDC1</text><text class="v" x="1081" y="440">0.226</text></g>
<g id="AGRP"><circle class="n r1" cx="1018" cy="448" r="20"/><text class="t" x="1018" y="451">AGRP</text><text class="v" x="1018" y="475">1.891</text></g>
<g id="NPY"><circle class="n r1" cx="1018" cy="559" r="20"/><text class="t" x="1018" y="562">NPY</text><text class="v" x="1018" y="586">0.456</text></g>
<g id="PENK"><circle class="n r2" cx="80" cy="693" r="8"/><text class="t" x="80" y="696">PENK</text><text class="v" x="80" y="706">0.361</text></g>
<g id="PCSK1"><polygon class="n w" points="115,708 125,702 135,708 125,714"/><text class="t" x="125" y="711">PCSK1</text></g>
<g id="NEUROG3"><ellipse class="n g2" cx="255" cy="718" rx="18" ry="7"/><text class="t" x="255" y="721">NEUROG3</text><text class="v" x="255" y="731">-0.056</text></g>
<g id="ADRB1"><text class="t" x="290" y="726">ADRB1</text><text class="v" x="290" y="736">0.064</text></g>
<g id="SST"><ellipse class="n r4" cx="340" cy="718" rx="10" ry="8"/><text class="t" x="340" y="721">SST</text><text class="v" x="340" y="731">0.120</text></g>
<g id="GNRH1"><circle class="n r1" cx="188" cy="747" r="8"/><text class="t" x="188" y="750">GNRH1</text><text class="v" x="188" y="760">0.383</text></g>
<g id="OGFR"><circle class="n r4" cx="20" cy="827" r="10"/><text class="t" x="20" y="830">OGFR</text><text class="v" x="20" y="841">0.123</text></g>
<g id="OPRK1"><rect class="n r4" x="47" y="807" width="18" height="34"/><text class="t" x="56" y="826">OPRK1</text><text class="v" x="56" y="848">0.085</text></g>
<g id="OPRD1"><rect class="n b4" x="89" y="806" width="18" height="36"/><text class="t" x="98" y="826">OPRD1</text><text class="v" x="98" y="850">-0.027</text></g>
<g id="OPRM1"><rect class="n b1" x="125" y="803" width="22" height="40"/><text class="t" x="136" y="826">OPRM1</text><text class="v" x="136" y="851">-0.019</text></g>
<g id="ADRB3"><rect class="n b1" x="186" y="777" width="14" height="30"/><text class="t" x="193" y="795">ADRB3</text><text class="v" x="193" y="813">-0.032</text></g>
<g id="AVPR1B"><rect class="n r2" x="214" y="777" width="14" height="30"/><text class="t" x="221" y="795">AVPR1B</text><text class="v" x="221" y="813">0.213</text></g>
<g id="GALR1"><rect class="n b4" x="243" y="777" width="14" height="30"/><text class="t" x="250" y="795">GALR1</text><text class="v" x="250" y="813">-0.011</text></g>
<g id="SSTR2"><rect class="n r4" x="274" y="777" width="14" height="30"/><text class="t" x="281" y="795">SSTR2</text><text class="v" x="281" y="813">0.013</text></g>
<g id="SSTR5"><rect class="n r3" x="297" y="777" width="14" height="30"/><text class="t" x="304" y="795">SSTR5</text><text class="v" x="304" y="813">-0.181</text></g>
<g id="BRS3"><rect class="n r4" x="329" y="777" width="14" height="30"/><text class="t" x="336" y="795">BRS3</text><text class="v" x="336" y="813">0.122</text></g>
<g id="CNR1"><rect class="n r4" x="359" y="777" width="14" height="30"/><text class="t" x="366" y="795">CNR1</text><text class="v" x="366" y="813">0.116</text></g>
<g id="DRD1"><rect class="n r1" x="406" y="775" width="14" height="30"/><text class="t" x="413" y="793">DRD1</text><text class="v" x="413" y="811">0.463</text></g>
<g id="DRD2"><rect class="n b4" x="431" y="777" width="14" height="30"/><text class="t" x="438" y="795">DRD2</text><text class="v" x="438" y="813">-0.064</text></g>
<g id="DRD4"><rect class="n r4" x="460" y="777" width="14" height="30"/><text class="t" x="467" y="795">DRD4</text><text class="v" x="467" y="813">0.075</text></g>
<g id="DRD5"><rect class="n r4" x="480" y="777" width="14" height="30"/><text class="t" x="487" y="795">DRD5</text><text class="v" x="487" y="813">0.014</text></g>
<g id="MC4R"><rect class="n r3" x="518" y="790" width="40" height="52" stroke="#666"/><text class="t" x="538" y="819">MC4R</text><text class="v" x="538" y="849">0.034</text></g>
<g id="MC3R"><rect class="n b3" x="568" y="792" width="34" height="52" stroke="#666"/><text class="t" x="585" y="821">MC3R</text><text class="v" x="585" y="851">-0.061</text></g>
<g id="MC5R"><rect class="n r1" x="498" y="815" width="14" height="30"/><text class="t" x="505" y="833">MC5R</text><text class="v" x="505" y="852">0.363</text></g>
<g id="MRAP"><ellipse class="n r4" cx="617" cy="819" rx="10" ry="6"/><text class="t" x="617" y="822">MRAP</text></g>
<g id="MRAP2"><circle class="n b2" cx="618" cy="843" r="9"/><text class="t" x="618" y="846">MRAP2</text><text class="v" x="618" y="858">0.221</text></g>
<g id="MC1R"><rect class="n w" x="637" y="820" width="16" height="36"/><text class="t" x="645" y="840">MC1R</text></g>
<g id="GRM1"><rect class="n b2" x="283" y="857" width="14" height="30"/><text class="t" x="290" y="875">GRM1</text><text class="v" x="290" y="894">-0.369</text></g>
<g id="KCNB1"><rect class="n r2" x="346" y="833" width="14" height="30"/><text class="t" x="353" y="851">KCNB1</text><text class="v" x="353" y="870">0.357</text></g>
<g id="SLC18A2"><rect class="n b1" x="400" y="843" width="10" height="14"/><text class="t" x="405" y="853">SLC18A2</text><text class="v" x="405" y="863">-0.455</text></g>
<g id="SLC6A3"><rect class="n b1" x="435" y="854" width="12" height="16"/><text class="t" x="441" y="865">SLC6A3</text></g>
<g id="GPR37"><rect class="n b2" x="338" y="876" width="14" height="30"/><text class="t" x="345" y="894">GPR37</text><text class="v" x="345" y="912">0.461</text></g>
<g id="UBC"><polygon class="n b2" points="483,873 491,888 483,903 475,888"/><text class="t" x="483" y="891">UBC</text><text class="v" x="483" y="911">-0.139</text></g>
<g id="PICK1"><polygon class="n b3" points="354,911 361,925 354,939 347,925"/><text class="t" x="354" y="928">PICK1</text><text class="v" x="354" y="946">-0.203</text></g>
<g id="HEY2"><ellipse class="n r2" cx="381" cy="942" rx="16" ry="8"/><text class="t" x="381" y="945">HEY2</text><text class="v" x="381" y="956">0.249</text></g>
<g id="OTX2"><ellipse class="n w" cx="403" cy="959" rx="16" ry="7"/><text class="t" x="403" y="962">OTX2</text></g>
<g id="EN1"><ellipse class="n b1" cx="435" cy="972" rx="16" ry="8"/><text class="t" x="435" y="975">EN1</text><text class="v" x="435" y="986">-0.055</text></g>
<g id="ATRNL1"><ellipse class="n b3" cx="463" cy="975" rx="9" ry="8"/><text class="t" x="463" y="978">ATRNL1</text><text class="v" x="463" y="989">-0.159</text></g>
<g id="MGRN1"><polygon class="n r4" points="493,959 501,974 493,989 485,974"/><text class="t" x="493" y="977">MGRN1</text><text class="v" x="493" y="996">0.035</text></g>
<g id="NPM1"><ellipse class="n w" cx="528" cy="983" rx="16" ry="8"/><text class="t" x="528" y="986">NPM1</text></g>
<g id="SMARCA4"><ellipse class="n b3" cx="568" cy="983" rx="16" ry="8"/><text class="t" x="568" y="986">SMARCA4</text><text class="v" x="568" y="997">-0.298</text></g>
<g id="SIM1"><ellipse class="n b2" cx="672" cy="862" rx="15" ry="7"/><text class="t" x="672" y="865">SIM1</text><text class="v" x="672" y="876">-0.408</text></g>
<g id="ARNT2"><ellipse class="n r4" cx="675" cy="900" rx="15" ry="8"/><text class="t" x="675" y="903">ARNT2</text><text class="v" x="675" y="914">0.084</text></g>
<g id="MSX1"><ellipse class="n r1" cx="665" cy="929" rx="15" ry="8"/><text class="t" x="665" y="932">MSX1</text><text class="v" x="665" y="943">0.454</text></g>
<g id="CCND1"><ellipse class="n b1" cx="650" cy="953" rx="15" ry="8"/><text class="t" x="650" y="956">CCND1</text><text class="v" x="650" y="967">-0.464</text></g>
<g id="IRAP"><ellipse class="n r4" cx="604" cy="973" rx="8" ry="18"/><text class="t" x="602" y="976">IRAP</text><text class="v" x="604" y="997">0.085</text></g>
<g id="serotonin"><ellipse class="n w" cx="640" cy="684" rx="36" ry="12"/><text class="s" x="640" y="686">5-hydroxytryptamine</text></g>
<g id="dopamine"><ellipse class="n w" cx="571" cy="690" rx="28" ry="13"/><text class="t" x="571" y="693">dopamine</text></g>
<g id="NPY5R"><rect class="n r3" x="845" y="672" width="14" height="28"/><text class="t" x="852" y="689">NPY5R</text><text class="v" x="852" y="707">0.213</text></g>
<g id="Npy4r"><rect class="n w" x="870" y="672" width="14" height="28"/><text class="t" x="877" y="689">Npy4r</text></g>
<g id="NPY2R"><rect class="n w" x="901" y="672" width="16" height="26"/><text class="t" x="909" y="688">NPY2R</text></g>
<g id="NPY1R"><rect class="n r2" x="935" y="672" width="14" height="28"/><text class="t" x="942" y="689">NPY1R</text><text class="v" x="942" y="707">0.256</text></g>
<g id="HCRT"><circle class="n b4" cx="985" cy="730" r="8"/><text class="t" x="985" y="733">HCRT</text><text class="v" x="985" y="744">-0.14</text></g>
<g id="HCRTR2"><rect class="n b4" x="961" y="781" width="14" height="31"/><text class="t" x="968" y="799">HCRTR2</text><text class="v" x="968" y="818">-0.035</text></g>
<g id="HCRTR1"><rect class="n b1" x="999" y="781" width="14" height="31"/><text class="t" x="1006" y="799">HCRTR1</text><text class="v" x="1006" y="818">-0.495</text></g>
<g id="HTR2A"><rect class="n r3" x="726" y="734" width="14" height="30"/><text class="t" x="733" y="752">HTR2A</text><text class="v" x="733" y="770">-0.144</text></g>
<g id="HTR2B"><rect class="n b1" x="761" y="734" width="14" height="30"/><text class="t" x="768" y="752">HTR2B</text><text class="v" x="768" y="770">-0.500</text></g>
<g id="HTR2C"><rect class="n b4" x="788" y="734" width="14" height="30"/><text class="t" x="795" y="752">HTR2C</text><text class="v" x="795" y="770">-0.030</text></g>
<g id="HTR1A"><rect class="n b4" x="829" y="734" width="14" height="30"/><text class="s" x="836" y="752">HTR1A</text><text class="v" x="836" y="770">-0.132</text></g>
<g id="HTR1B"><rect class="n b4" x="857" y="734" width="14" height="30"/><text class="s" x="864" y="752">HTR1B</text><text class="v" x="864" y="770">-0.039</text></g>
<g id="HTR1D"><rect class="n b4" x="880" y="734" width="14" height="30"/><text class="s" x="887" y="752">HTR1D</text><text class="v" x="887" y="770">-0.105</text></g>
<g id="HTR1E"><rect class="n w" x="902" y="734" width="14" height="30"/><text class="s" x="909" y="752">HTR1E</text></g>
<g id="HTR1F"><rect class="n r4" x="922" y="734" width="14" height="30"/><text class="s" x="929" y="752">HTR1F</text><text class="v" x="929" y="770">0.071</text></g>
<g id="HTR6"><rect class="n w" x="658" y="775" width="14" height="30"/><text class="t" x="665" y="793">HTR6</text></g>
<g id="HTR7"><rect class="n r1" x="690" y="775" width="14" height="30"/><text class="t" x="697" y="793">HTR7</text><text class="v" x="697" y="811">0.500</text></g>
<g id="HTR5A"><rect class="n r4" x="712" y="775" width="14" height="30"/><text class="t" x="719" y="793">HTR5A</text><text class="v" x="719" y="811">0.052</text></g>
<g id="HTR4"><rect class="n b3" x="737" y="775" width="14" height="30"/><text class="t" x="744" y="793">HTR4</text><text class="v" x="744" y="811">-0.138</text></g>
<g id="HTR3A"><rect class="n r1" x="785" y="775" width="14" height="30"/><text class="t" x="792" y="793">HTR3A</text><text class="v" x="792" y="811">0.601</text></g>
<g id="HTR3B"><rect class="n d b3" x="812" y="775" width="14" height="30"/><text class="t" x="819" y="793">HTR3B</text><text class="v" x="819" y="811">-0.236</text></g>
<g id="HTR3C"><rect class="n d w" x="837" y="775" width="14" height="30"/><text class="t" x="844" y="793">HTR3C</text></g>
<g id="HTR3E"><ellipse class="n w" cx="869" cy="790" rx="8" ry="16"/><text class="t" x="869" y="793">HTR3E</text></g>
<g id="TRH"><circle class="n b4" cx="768" cy="880" r="8"/><text class="t" x="768" y="883">TRH</text><text class="v" x="768" y="894">-0.148</text></g>
<g id="TRHR"><rect class="n b2" x="767" y="960" width="14" height="31"/><text class="t" x="774" y="978">TRHR</text><text class="v" x="774" y="998">-0.273</text></g>
<g id="THRB"><rect class="n b4" x="802" y="968" width="28" height="14"/><text class="t" x="816" y="978">THRB</text><text class="v" x="816" y="989">-0.074</text></g>
<g id="THRA"><rect class="n r3" x="841" y="968" width="30" height="14"/><text class="t" x="856" y="978">THRA</text><text class="v" x="856" y="989">0.196</text></g>
<g id="CXCL8"><rect class="n d w" x="851" y="857" width="20" height="13" stroke-width="0.8"/><text class="t" x="861" y="866">CXCL8</text></g>
<g id="MYOD1"><ellipse class="n r4" cx="866" cy="871" rx="16" ry="7"/><text class="t" x="866" y="874">MYOD1</text><text class="v" x="866" y="884">0.016</text></g>
<g id="NCOA1"><ellipse class="n r4" cx="845" cy="896" rx="16" ry="8"/><text class="t" x="845" y="899">NCOA1</text><text class="v" x="845" y="910">0.063</text></g>
<g id="PPARGC1A"><ellipse class="n r4" cx="872" cy="926" rx="17" ry="8"/><text class="t" x="872" y="929">PPARGC1A</text><text class="v" x="872" y="940">0.118</text></g>
<g id="NR0B2"><rect class="n b4" x="897" y="955" width="22" height="14"/><text class="t" x="908" y="965">NR0B2</text><text class="v" x="908" y="976">-0.008</text></g>
<g id="NR1H4"><rect class="n r4" x="932" y="976" width="28" height="14"/><text class="t" x="946" y="986">NR1H4</text><text class="v" x="946" y="997">0.018</text></g>
<g id="EP300"><ellipse class="n r3" cx="983" cy="1002" rx="15" ry="8"/><text class="t" x="983" y="1005">EP300</text><text class="v" x="983" y="1016">0.161</text></g>
<g id="POU1F1"><ellipse class="n r1" cx="926" cy="863" rx="15" ry="7"/><text class="t" x="926" y="866">POU1F1</text><text class="v" x="926" y="877">0.381</text></g>
<g id="PDX1"><ellipse class="n r4" cx="970" cy="866" rx="15" ry="8"/><text class="t" x="970" y="869">PDX1</text><text class="v" x="970" y="880">0.160</text></g>
<g id="PPARG"><rect class="n r1" x="944" y="892" width="30" height="14"/><text class="t" x="959" y="902">PPARG</text><text class="v" x="959" y="913">0.864</text></g>
<g id="FOXO1"><ellipse class="n r2" cx="1035" cy="868" rx="33" ry="23"/><text class="t" x="1035" y="869">FOXO1</text></g>
<g id="RARB"><rect class="n" x="1019" y="877" width="30" height="14" fill="#fbeeee"/><text class="t" x="1034" y="887">RARB</text><text class="v" x="1034" y="898">0.028</text></g>
<g id="MMP9"><polygon class="n b2" points="1051,907 1065,901 1079,907 1065,913"/><text class="t" x="1065" y="910">MMP9</text><text class="v" x="1065" y="920">-0.117</text></g>
<g id="ID1"><ellipse class="n r4" cx="1073" cy="929" rx="15" ry="8"/><text class="t" x="1073" y="932">ID1</text><text class="v" x="1073" y="943">0.083</text></g>
<g id="SIRT1"><ellipse class="n w" cx="1016" cy="950" rx="15" ry="8"/><text class="t" x="1016" y="953">SIRT1</text></g>
<g id="NCOR1"><ellipse class="n r4" cx="1069" cy="961" rx="16" ry="8"/><text class="t" x="1069" y="964">NCOR1</text><text class="v" x="1069" y="975">0.067</text></g>
<g id="VDR"><ellipse class="n b3" cx="1061" cy="987" rx="15" ry="9"/><text class="t" x="1061" y="990">VDR</text><text class="v" x="1061" y="1001">-0.201</text></g>
</svg>
